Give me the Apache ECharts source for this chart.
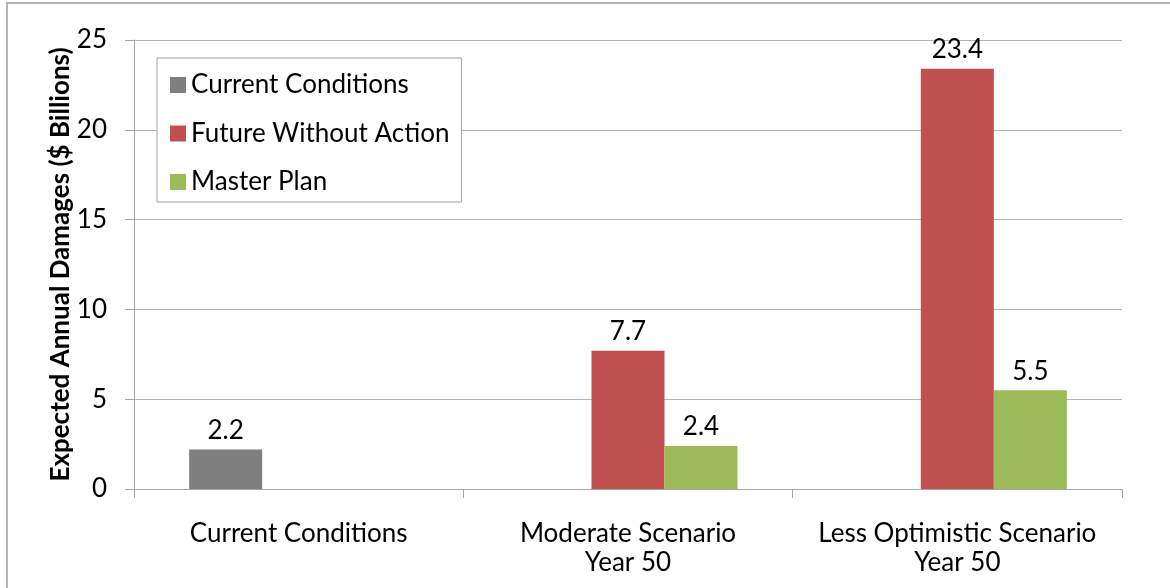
<!DOCTYPE html>
<html>
<head>
<meta charset="utf-8">
<script src="https://cdn.jsdelivr.net/npm/echarts@6/dist/echarts.min.js"></script>
<style>
html,body{margin:0;padding:0;background:#fff;}
#chart{width:1170px;height:588px;}
</style>
</head>
<body>
<div id="chart"></div>
<script>
const categories = ['Current Conditions', 'Moderate Scenario\nYear 50', 'Less Optimistic Scenario\nYear 50'];
const seriesNames = ['Current Conditions', 'Future Without Action', 'Master Plan'];
const currentConditions = [2.2, null, null];
const futureWithoutAction = [null, 7.7, 23.4];
const masterPlan = [null, 2.4, 5.5];
const yTicks = { min: 0, max: 25, interval: 5 };
const colors = ['#7f7f7f', '#c0504d', '#9bbb59'];

const FONT = 'Lato, "Open Sans", sans-serif';
const chart = echarts.init(document.getElementById('chart'));

const labelStyle = {
  show: true, position: 'top', distance: 6,
  color: '#000', fontFamily: FONT, fontSize: 26
};

function barSeries(name, data, color) {
  return {
    name: name, type: 'bar', data: data,
    itemStyle: { color: color },
    label: labelStyle,
    barGap: '0%', barCategoryGap: '33.5%'
  };
}

chart.setOption({
  animation: false,
  color: colors,
  graphic: [{
    type: 'rect', shape: { x: 7, y: 3, width: 1200, height: 700 },
    style: { fill: 'none', stroke: '#b5b5b5', lineWidth: 2 }, z: -1
  }],
  grid: { left: 134, right: 48, top: 40, bottom: 99 },
  legend: {
    orient: 'vertical', left: 157, top: 58,
    data: seriesNames,
    icon: 'rect', itemWidth: 16, itemHeight: 16, itemGap: 18.5,
    padding: [12, 12, 5, 13],
    backgroundColor: '#fff', borderColor: '#a0a0a0', borderWidth: 1,
    textStyle: { fontFamily: FONT, fontSize: 26, color: '#000', lineHeight: 30 }
  },
  xAxis: {
    type: 'category', data: categories,
    axisLine: { lineStyle: { color: '#a6a6a6', width: 1 } },
    axisTick: { show: true, length: 9, lineStyle: { color: '#a6a6a6' } },
    axisLabel: { interval: 0, margin: 30, color: '#000', fontFamily: FONT, fontSize: 26, lineHeight: 29 }
  },
  yAxis: {
    type: 'value', min: yTicks.min, max: yTicks.max, interval: yTicks.interval,
    name: 'Expected Annual Damages ($ Billions)',
    nameLocation: 'middle', nameGap: 60, nameRotate: 90, nameMoveOverlap: false,
    nameTextStyle: { fontFamily: FONT, fontSize: 26, fontWeight: 'bold', color: '#000' },
    axisLine: { show: true, lineStyle: { color: '#a6a6a6', width: 1 } },
    axisTick: { show: true, length: 9, lineStyle: { color: '#a6a6a6' } },
    splitLine: { show: true, lineStyle: { color: '#b3b3b3', width: 1 } },
    axisLabel: { margin: 27, color: '#000', fontFamily: FONT, fontSize: 26 }
  },
  series: [
    barSeries(seriesNames[0], currentConditions, colors[0]),
    barSeries(seriesNames[1], futureWithoutAction, colors[1]),
    barSeries(seriesNames[2], masterPlan, colors[2])
  ]
});
</script>
</body>
</html>
